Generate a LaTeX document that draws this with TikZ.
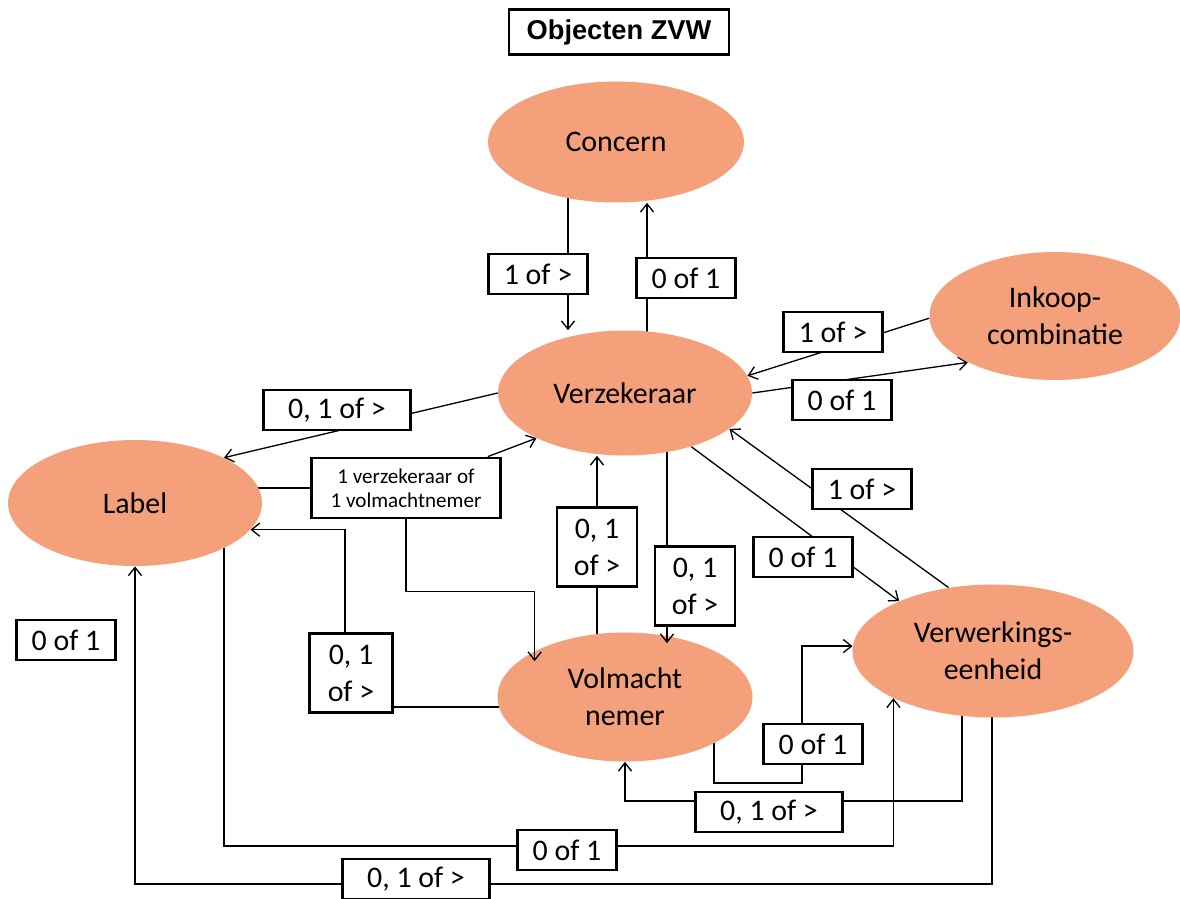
\documentclass[tikz,border=0pt]{standalone}
\usepackage{fontspec}
\setmainfont{Carlito}
\newfontfamily\titlefont{Liberation Sans}
\usetikzlibrary{shapes.geometric,arrows.meta,backgrounds}

\definecolor{zvwSalmon}{HTML}{F4A07A}

\tikzset{
    entity/.style={ellipse, fill=zvwSalmon, inner sep=0pt, align=center,
        font=\fontsize{17}{21}\selectfont},
    card/.style={draw, line width=1.6pt, fill=white, inner sep=0pt,
        minimum width=1.98cm, minimum height=0.8cm, align=center,
        font=\fontsize{17}{21}\selectfont},
    widecard/.style={card, minimum width=2.94cm},
    tallcard/.style={card, minimum width=1.6cm, minimum height=1.58cm},
    rel/.style={line width=0.75pt}
}

\begin{document}
\begin{tikzpicture}[x=0.02cm, y=-0.02cm, >={Straight Barb[length=4.7pt,width=7.5pt]}]

    \useasboundingbox (0,0) rectangle (1180,899);

    %draws title
    \node[draw, line width=1.6pt, minimum width=4.4cm, minimum height=0.9cm,
        font=\titlefont\bfseries\fontsize{15.5}{18}\selectfont] (title) at (619,32) {Objecten ZVW};

    %draws objects
    \node[entity, minimum width=5.12cm, minimum height=2.42cm] (concern) at (616,142) {Concern};
    \node[entity, minimum width=5.08cm, minimum height=2.5cm] (verz) at (625,393) {Verzekeraar};
    \node[entity, minimum width=5.02cm, minimum height=2.56cm] (inkoop) at (1055,316) {Inkoop-\\combinatie};
    \node[entity, minimum width=5.08cm, minimum height=2.52cm] (lbl) at (135,503) {Label};
    \node[entity, minimum width=5.1cm, minimum height=2.58cm] (volm) at (625,697) {Volmacht\\nemer};
    \node[entity, minimum width=5.62cm, minimum height=2.66cm] (verw) at (993,651) {Verwerkings-\\eenheid};

    %draws cardinalities
    \node[card] (c1) at (538,274) {1 of >};
    \node[card] (c2) at (686,278) {0 of 1};
    \node[card] (c3) at (833,332) {1 of >};
    \node[card] (c4) at (842,400) {0 of 1};
    \node[widecard] (c5) at (337,410) {0, 1 of >};
    \node[card, minimum width=3.78cm, minimum height=1.2cm,
        font=\fontsize{12}{13.8}\selectfont] (c6) at (406,488) {1 verzekeraar of\\1 volmachtnemer};
    \node[tallcard] (c7) at (597,547) {0, 1\\of >};
    \node[tallcard] (c8) at (695,586) {0, 1\\of >};
    \node[card] (c9) at (803,557) {0 of 1};
    \node[card] (c10) at (862,489) {1 of >};
    \node[card] (c11) at (66,640) {0 of 1};
    \node[tallcard, minimum width=1.66cm] (c12) at (351,673) {0, 1\\of >};
    \node[card] (c13) at (813,744) {0 of 1};
    \node[widecard] (c14) at (769,812) {0, 1 of >};
    \node[card] (c15) at (567,850) {0 of 1};
    \node[widecard] (c16) at (416,879) {0, 1 of >};

    %draws arrows that end on top of an object
    \coordinate (k6) at ([yshift=-0.2cm]volm.north west);
    \draw[rel,->] (c6.south) -- ++(0,72) -| (k6);
    \coordinate (k9) at ([xshift=-0.56cm]c8.center);
    \coordinate (k9b) at ([yshift=-0.22cm]volm.north);
    \draw[rel,->] (k9 |- c8.south) -- (k9 |- k9b);

    %draws relations behind everything
    \begin{scope}[on background layer]
        \coordinate (k1) at ([xshift=0.6cm]c1.center);
        \draw[rel,->] (k1 |- concern) -- (k1 |- verz.north);
        \coordinate (k2) at ([xshift=-0.78cm]c2.center);
        \draw[rel,->] (k2 |- verz) -- (k2 |- concern.south);

        \draw[rel,->] (inkoop.181) -- (verz.8);
        \draw[rel,->] (verz.east) -- (inkoop.208);

        \draw[rel,->] (verz.west) -- (lbl.27);
        \draw[rel] (c6.west -| lbl) -- (c6.west);
        \draw[rel,->] (c6.21) -- (verz.207);

        \coordinate (k7) at ([yshift=-0.2cm]volm.center);
        \draw[rel] (k7) -- (k7 -| c12.east);
        \coordinate (k7b) at ([xshift=-0.12cm]c12.north);
        \draw[rel,->] (k7b) |- (lbl.-13);

        \draw[rel,->] (c7 |- volm) -- (c7 |- verz.south);
        \draw[rel] (k9 |- verz) -- (k9 |- c8.north);

        \draw[rel,->] (verz.-39) -- (verw.152);
        \draw[rel,->] (verw.125) -- (verz.-19);

        \coordinate (k12) at (714,783);
        \coordinate (k13) at (802,783);
        \draw[rel,->] (k12 |- volm) -- (k12) -- (k13) |- (verw.178);

        \coordinate (k14) at (962,801);
        \draw[rel,->] (k14 |- verw) -- (k14) -| (volm.south);

        \coordinate (k15) at (224,846);
        \draw[rel,->] (k15 |- lbl) -- (k15) -| (verw.south west);

        \coordinate (k16) at (992,884);
        \draw[rel,->] (k16 |- verw) -- (k16) -| (lbl.south);
    \end{scope}

\end{tikzpicture}
\end{document}
